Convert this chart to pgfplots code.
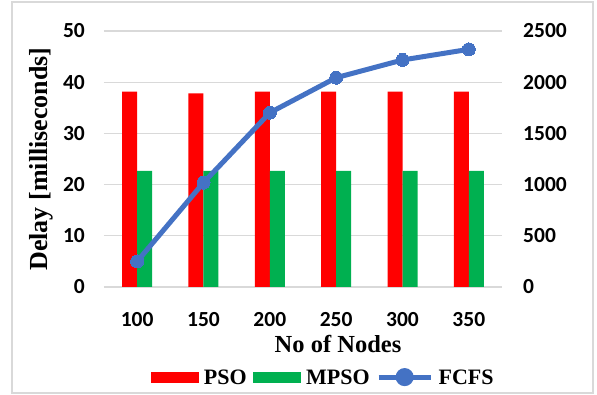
\documentclass[border=0pt]{standalone}
\usepackage{fontspec}
\setmainfont{Liberation Serif}
\newfontfamily\numfont{Carlito}
\usepackage{pgfplots}
\pgfplotsset{compat=1.18}

\definecolor{psored}{HTML}{FF0000}
\definecolor{mpsogreen}{HTML}{00B050}
\definecolor{fcfsblue}{HTML}{4472C4}
\definecolor{gridgray}{HTML}{D9D9D9}

\newcommand{\ticksfont}{\numfont\bfseries\fontsize{21.5}{24}\selectfont}
\newcommand{\titlefont}{\bfseries\fontsize{24.5}{28}\selectfont}
\newcommand{\ytitlefont}{\bfseries\fontsize{26}{30}\selectfont}
\newcommand{\legfont}{\bfseries\fontsize{22}{26}\selectfont}

\begin{document}
\begin{tikzpicture}
% ---- bars: delay in milliseconds (left axis) ----
\begin{axis}[
  at={(0pt,0pt)}, anchor=south west,
  scale only axis, width=398pt, height=256pt,
  ybar=0pt, bar width=15pt,
  xmin=-0.5, xmax=5.5, ymin=0, ymax=50,
  xtick={0,1,2,3,4,5},
  xticklabels={100,150,200,250,300,350},
  ytick={0,10,20,30,40,50},
  axis line style={draw=none},
  major tick length=0pt,
  ymajorgrids, grid style={gridgray, line width=1.3pt},
  /pgf/number format/assume math mode=true,
  tick label style={font=\ticksfont},
  yticklabel style={anchor=east, inner sep=0pt, xshift=-19pt},
  xticklabel style={anchor=north, inner sep=0pt, yshift=-25pt},
  xlabel={No of Nodes},
  xlabel style={font=\titlefont, at={(axis description cs:0.588,0)}, anchor=base, yshift=-66pt},
  ylabel={Delay [milliseconds]},
  ylabel style={font=\ytitlefont, at={(axis description cs:0,0.5)}, anchor=center, yshift=63pt},
]
\addplot[fill=psored, draw=none] coordinates {(0,38.15) (1,37.8) (2,38.15) (3,38.15) (4,38.15) (5,38.15)};
\addplot[fill=mpsogreen, draw=none] coordinates {(0,22.7) (1,22.7) (2,22.7) (3,22.7) (4,22.7) (5,22.7)};
\end{axis}

% ---- FCFS line (right axis) and the shared legend ----
\begin{axis}[
  at={(0pt,0pt)}, anchor=south west,
  scale only axis, width=398pt, height=256pt,
  xmin=-0.5, xmax=5.5, ymin=0, ymax=2500,
  axis y line*=right, axis x line=none,
  ytick={0,500,1000,1500,2000,2500},
  axis line style={draw=none},
  major tick length=0pt,
  /pgf/number format/assume math mode=true,
  /pgf/number format/set thousands separator={},
  tick label style={font=\ticksfont},
  yticklabel style={anchor=west, inner sep=0pt, xshift=21pt},
  legend style={
    at={(axis description cs:0.553,-0.352)}, anchor=center,
    draw=none, fill=none, font=\legfont,
    legend columns=3,
    /tikz/every even column/.append style={column sep=3pt},
    /tikz/every odd column/.append style={column sep=2pt},
    nodes={inner ysep=2pt, inner xsep=3.5pt, text depth=0pt},
  },
]
\addlegendimage{legend image code/.code={\fill[psored] (0pt,-5pt) rectangle (47pt,5pt);}}
\addlegendentry{PSO}
\addlegendimage{legend image code/.code={\fill[mpsogreen] (0pt,-5pt) rectangle (47pt,5pt);}}
\addlegendentry{MPSO}
\addplot[color=fcfsblue, line width=5pt, mark=*, mark size=6.5pt,
  mark options={fill=fcfsblue, draw=fcfsblue, line width=0pt},
  legend image code/.code={
    \draw[fcfsblue, line width=5pt] (0pt,0pt) -- (52pt,0pt);
    \fill[fcfsblue] (26pt,0pt) circle (6.5pt);}]
  coordinates {(0,250) (1,1019) (2,1702) (3,2044) (4,2217) (5,2321)};
\addlegendentry{FCFS}
\end{axis}

% chart frame
\draw[gridgray, line width=1.5pt] (-92pt,285pt) rectangle (489pt,-106pt);
\pgfresetboundingbox
\path[use as bounding box] (-104pt,-108pt) rectangle (493pt,287pt);
\end{tikzpicture}
\end{document}
